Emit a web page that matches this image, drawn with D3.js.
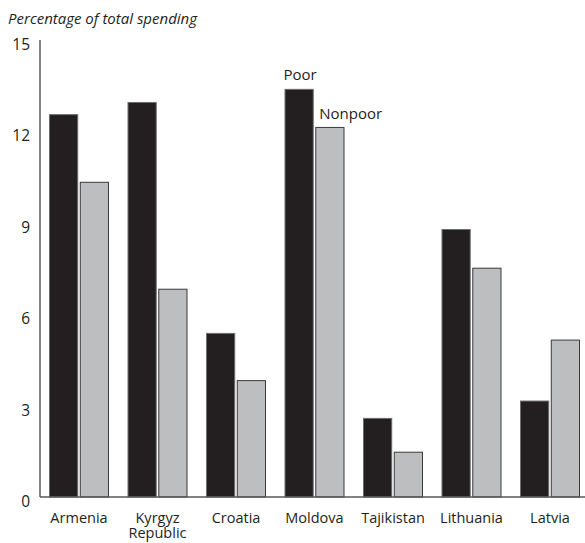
<!DOCTYPE html>
<html><head><meta charset="utf-8">
<script src="https://cdn.jsdelivr.net/npm/d3@7"></script>
<style>body{margin:0;background:#fff}svg{display:block}text{font-family:"Open Sans","Noto Sans",sans-serif;fill:#231f20}</style>
</head><body><svg id="c" width="585" height="543"></svg>
<script>
const categories = ["Armenia", "Kyrgyz Republic", "Croatia", "Moldova", "Tajikistan", "Lithuania", "Latvia"];
const categoryLines = [["Armenia"], ["Kyrgyz", "Republic"], ["Croatia"], ["Moldova"], ["Tajikistan"], ["Lithuania"], ["Latvia"]];
const seriesNames = ["Poor", "Nonpoor"];
const poor = [12.55, 12.95, 5.37, 13.38, 2.58, 8.78, 3.15];
const nonpoor = [10.33, 6.82, 3.82, 12.13, 1.47, 7.51, 5.15];
const yTicks = [0, 3, 6, 9, 12, 15];
const yTitle = "Percentage of total spending";
const colors = ["#231f20", "#bcbec0"];

const svg = d3.select("#c");
const y = d3.scaleLinear().domain([0, 15]).range([497, 40]);
const x0 = d3.scaleBand().domain(categories).range([40, 589]).paddingInner(0.2357).paddingOuter(0.1147);
const x1 = d3.scaleBand().domain(seriesNames).range([0, x0.bandwidth()]).paddingInner(0.05);

const data = categories.map((c, i) => ({c, vals: [{s: "Poor", v: poor[i]}, {s: "Nonpoor", v: nonpoor[i]}]}));

const g = svg.append("g");
g.selectAll("g.grp").data(data).join("g").attr("class", "grp")
  .attr("transform", d => `translate(${x0(d.c)},0)`)
  .selectAll("rect").data(d => d.vals).join("rect")
  .attr("x", d => x1(d.s) + 0.5)
  .attr("width", x1.bandwidth() - 1)
  .attr("y", d => y(d.v))
  .attr("height", d => y(0) - y(d.v))
  .attr("fill", d => d.s === "Poor" ? colors[0] : colors[1])
  .attr("stroke", d => d.s === "Poor" ? "#6d6e71" : "#3a3a3a")
  .attr("stroke-width", 1);

// axes lines
svg.append("line").attr("x1", 40).attr("x2", 40).attr("y1", y(15)).attr("y2", y(0)).attr("stroke", "#58595b").attr("stroke-width", 1.5);
svg.append("line").attr("x1", 40).attr("x2", 585).attr("y1", y(0)).attr("y2", y(0)).attr("stroke", "#58595b").attr("stroke-width", 1.5);

// y tick labels
svg.selectAll("text.yt").data(yTicks).join("text").attr("class", "yt")
  .attr("x", 30).attr("y", d => y(d) + 10).attr("text-anchor", "end")
  .attr("font-size", 15.5).text(d => d);

// title
svg.append("text").attr("x", 8).attr("y", 24).attr("font-size", 15).attr("font-style", "italic").text(yTitle);

// category labels
svg.selectAll("text.cat").data(categories).join("text").attr("class", "cat")
  .attr("x", d => x0(d) + x0.bandwidth() / 2).attr("y", 523).attr("text-anchor", "middle").attr("font-size", 14.5)
  .each(function(d, i) {
    const t = d3.select(this);
    categoryLines[i].forEach((ln, j) => {
      t.append("tspan").attr("x", x0(d) + x0.bandwidth() / 2).attr("dy", j === 0 ? 0 : 15).text(ln);
    });
  });

// series labels on Moldova
const mi = categories.indexOf("Moldova");
svg.append("text").attr("x", x0("Moldova") + x1("Poor") + x1.bandwidth() / 2 + 1).attr("y", y(poor[mi]) - 9)
  .attr("text-anchor", "middle").attr("font-size", 15).text(seriesNames[0]);
svg.append("text").attr("x", x0("Moldova") + x1("Nonpoor") + 4).attr("y", y(nonpoor[mi]) - 8)
  .attr("font-size", 15).text(seriesNames[1]);
</script></body></html>
